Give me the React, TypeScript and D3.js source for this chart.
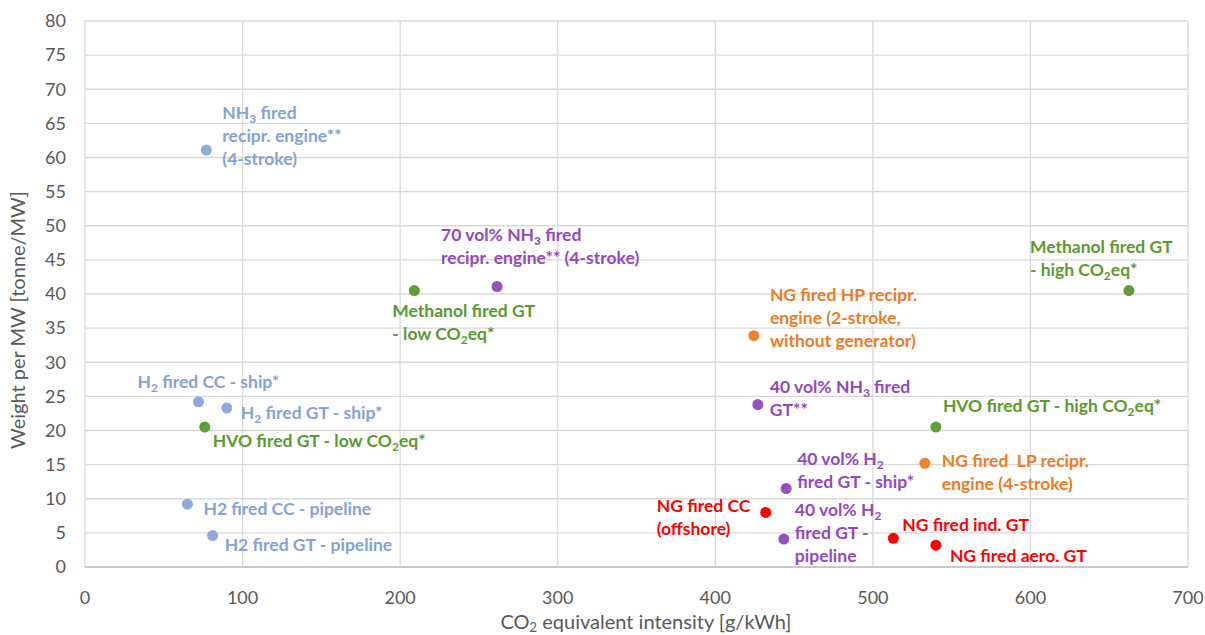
import React from "react";
import * as d3 from "d3";

const names: string[] = [
  "NH_3 fired|recipr. engine**|(4-stroke)",
  "H_2 fired CC - ship*",
  "H_2 fired GT - ship*",
  "HVO fired GT - low CO_2eq*",
  "H2 fired CC - pipeline",
  "H2 fired GT - pipeline",
  "Methanol fired GT|- low CO_2eq*",
  "70 vol% NH_3 fired|recipr. engine** (4-stroke)",
  "NG fired HP recipr.|engine (2-stroke,|without generator)",
  "40 vol% NH_3 fired|GT**",
  "40 vol% H_2|fired GT - ship*",
  "40 vol% H_2|fired GT -|pipeline",
  "NG fired CC|(offshore)",
  "NG fired ind. GT",
  "NG fired aero. GT",
  "HVO fired GT - high CO_2eq*",
  "NG fired  LP recipr.|engine (4-stroke)",
  "Methanol fired GT|- high CO_2eq*",
];
const groups: string[] = [
  "h2", "h2", "h2", "bio", "h2", "h2", "bio", "blend", "ng2", "blend",
  "blend", "blend", "ng", "ng", "ng", "bio", "ng2", "bio",
];
const co2Values: number[] = [
  77, 72, 90, 76, 65, 81, 209, 261.5, 424.5, 427, 445, 443.5, 432, 513, 540, 540, 533, 662.5,
];
const weightValues: number[] = [
  61.1, 24.2, 23.3, 20.5, 9.2, 4.6, 40.5, 41.1, 33.9, 23.8, 11.5, 4.1, 8.0, 4.2, 3.2, 20.5, 15.2, 40.5,
];
const xTicks: number[] = [0, 100, 200, 300, 400, 500, 600, 700];
const yTicks: number[] = d3.range(0, 81, 5);

// label layout offsets (px) relative to each point: [dx, dy of first line centre]
const labelOffsets: [number, number][] = [
  [16, -37], [-61, -20], [14, 5], [8, 14], [16, 5], [12, 9], [-22, 20], [-56, -51],
  [16, -41], [12, -18], [11, -30], [11, -29], [-109, -6], [9, -13], [14, 11], [7, -21],
  [17, -2], [-99, -44],
];

const dotColors: Record<string, string> = {
  h2: "#8eaadb",
  bio: "#5f9e37",
  blend: "#9650c4",
  ng2: "#f0802a",
  ng: "#ff0000",
};
const textColors: Record<string, string> = {
  h2: "#84a2d9",
  bio: "#5a9a2f",
  blend: "#9248c2",
  ng2: "#f07b22",
  ng: "#ff0000",
};

const W = 1205;
const H = 635;
const margin = { left: 85, right: 17, top: 21, bottom: 68 };

function renderLine(line: string, key: number, x: number, y: number) {
  const parts = line.split(/(_\d)/);
  return (
    <text key={key} x={x} y={y} style={{ whiteSpace: "pre" }}>
      {parts.map((p, i) =>
        p.startsWith("_") ? (
          <tspan key={i} dy={4} fontSize={12}>
            {p.slice(1)}
          </tspan>
        ) : (
          <tspan key={i} dy={i > 0 && parts[i - 1].startsWith("_") ? -4 : 0}>
            {p}
          </tspan>
        )
      )}
    </text>
  );
}

export default function App() {
  const x = d3.scaleLinear().domain([0, 700]).range([margin.left, W - margin.right]);
  const y = d3.scaleLinear().domain([0, 80]).range([H - margin.bottom, margin.top]);
  const lineH = 23;

  return (
    <svg width={W} height={H} style={{ position: "absolute", left: 0, top: 0, background: "#fff" }}
      fontFamily="Lato, 'Open Sans', sans-serif">
      <g>
        {yTicks.map((t) => (
          <line key={"gy" + t} x1={x(0)} x2={x(700)} y1={y(t)} y2={y(t)} stroke="#d9d9d9" strokeWidth={1.3} />
        ))}
        {xTicks.map((t) => (
          <line key={"gx" + t} x1={x(t)} x2={x(t)} y1={y(0)} y2={y(80)} stroke="#d9d9d9" strokeWidth={1.3} />
        ))}
        <line x1={x(0)} x2={x(700)} y1={y(0)} y2={y(0)} stroke="#bfbfbf" strokeWidth={1.3} />
      </g>
      <g fill="#595959" fontSize={18}>
        {yTicks.map((t) => (
          <text key={"ty" + t} x={x(0) - 19} y={y(t)} dy="0.35em" textAnchor="end">
            {t}
          </text>
        ))}
        {xTicks.map((t) => (
          <text key={"tx" + t} x={x(t)} y={y(0) + 37} textAnchor="middle">
            {t}
          </text>
        ))}
        <text x={646} y={H - 6} textAnchor="middle" fontSize={20}>
          CO<tspan dy={3} fontSize={13}>2</tspan><tspan dy={-3}> equivalent intensity [g/kWh]</tspan>
        </text>
        <text transform={`translate(25,320) rotate(-90)`} textAnchor="middle" fontSize={20}>
          Weight per MW [tonne/MW]
        </text>
      </g>
      <g>
        {co2Values.map((v, i) => (
          <circle key={"p" + i} cx={x(v)} cy={y(weightValues[i])} r={5.5} fill={dotColors[groups[i]]} />
        ))}
      </g>
      <g fontSize={17.5} fontWeight={700}>
        {names.map((n, i) => {
          const px = x(co2Values[i]) + labelOffsets[i][0];
          const py = y(weightValues[i]) + labelOffsets[i][1] + 6;
          return (
            <g key={"l" + i} fill={textColors[groups[i]]}>
              {n.split("|").map((line, j) => renderLine(line, j, px, py + j * lineH))}
            </g>
          );
        })}
      </g>
    </svg>
  );
}
